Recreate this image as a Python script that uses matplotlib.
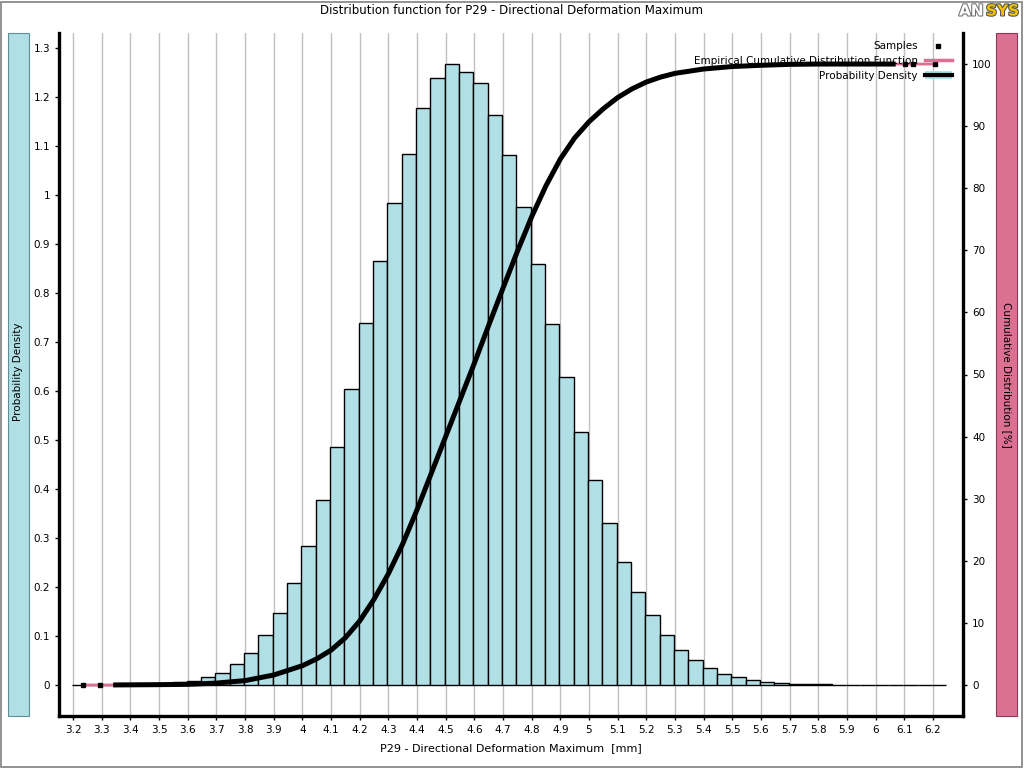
import numpy as np
import matplotlib
matplotlib.use("Agg")
from matplotlib import pyplot as plt
from matplotlib.patches import Rectangle, Patch
from matplotlib.lines import Line2D
from matplotlib.legend_handler import HandlerTuple
import matplotlib.patheffects as pe

# histogram: left edge of first bin, bin width, heights (probability density)
bin_start = 3.197
bin_width = 0.05
density = [0, 0, 0, 0, 0.0005, 0.001, 0.003, 0.006, 0.009, 0.016,
           0.025, 0.042, 0.066, 0.101, 0.146, 0.208, 0.284, 0.378, 0.485, 0.605,
           0.739, 0.866, 0.983, 1.083, 1.178, 1.239, 1.267, 1.250, 1.229, 1.163,
           1.082, 0.976, 0.859, 0.736, 0.629, 0.516, 0.418, 0.331, 0.251, 0.190,
           0.143, 0.102, 0.071, 0.050, 0.035, 0.022, 0.016, 0.0096, 0.007, 0.005,
           0.003, 0.002, 0.001, 0, 0, 0, 0, 0, 0, 0, 0]

# cumulative distribution [%]
cdf_x = [3.34, 3.50, 3.60, 3.70, 3.80, 3.90, 4.00, 4.05, 4.10, 4.15,
         4.20, 4.25, 4.30, 4.35, 4.40, 4.45, 4.50, 4.55, 4.60, 4.65,
         4.70, 4.75, 4.80, 4.85, 4.90, 4.95, 5.00, 5.05, 5.10, 5.15,
         5.20, 5.25, 5.30, 5.40, 5.50, 5.60, 5.70, 5.80, 6.07]
cdf_y = [0, 0.05, 0.1, 0.3, 0.7, 1.6, 3.1, 4.2, 5.6, 7.6,
         10.3, 13.8, 17.9, 22.7, 28.2, 34.1, 40.0, 45.9, 51.8, 57.9,
         63.9, 69.8, 75.4, 80.4, 84.7, 88.1, 90.7, 92.8, 94.6, 96.0,
         97.1, 97.9, 98.5, 99.2, 99.6, 99.8, 99.95, 100, 100]

# samples at the extremes
sample_x = [3.235, 3.294, 6.102, 6.130, 6.207]
sample_y = [0, 0, 100, 100, 100]

xticks = [round(3.2 + 0.1 * i, 1) for i in range(31)]
yticks_left = [round(0.1 * i, 1) for i in range(14)]
yticks_right = list(range(0, 101, 10))

blue = '#b0dfe5'
pink = '#db7093'

fig = plt.figure(figsize=(10.24, 7.68), dpi=100)
ax = fig.add_axes([59 / 1024, 52 / 768, 904 / 1024, 683 / 768])
ax2 = ax.twinx()

edges = [bin_start + bin_width * i for i in range(len(density))]
ax.bar(edges, density, width=bin_width, align='edge', facecolor=blue,
       edgecolor='black', linewidth=1.0, zorder=2)

ax.set_xlim(3.151, 6.305)
ax.set_ylim(-0.0633, 1.3306)
ax2.set_ylim(-5, 105)

ax.set_xticks(xticks)
ax.set_xticklabels(['%g' % t for t in xticks])
ax.set_yticks(yticks_left)
ax.set_yticklabels(['%g' % t for t in yticks_left])
ax2.set_yticks(yticks_right)
ax.xaxis.grid(True, color='#c0c0c0', linewidth=1)
ax.set_axisbelow(True)

for a in (ax, ax2):
    a.tick_params(labelsize=7.5, length=3, width=1, colors='black')
    a.spines['top'].set_visible(False)
    for s in ('left', 'right', 'bottom'):
        a.spines[s].set_linewidth(2.4)
ax.spines['right'].set_visible(False)
ax2.spines['left'].set_visible(False)
ax2.spines['bottom'].set_visible(False)

ecdf_x = [sample_x[0]] + cdf_x + [sample_x[-1]]
ecdf_y = [sample_y[0]] + cdf_y + [sample_y[-1]]
ax2.plot(ecdf_x, ecdf_y, color=pink, linewidth=2, zorder=3)
ax2.plot(cdf_x, cdf_y, color='black', linewidth=3.6, zorder=4,
         solid_joinstyle='round', solid_capstyle='butt')
ax2.plot(sample_x, sample_y, linestyle='none', marker='s', markersize=3,
         color='black', zorder=5)

h_samples = Line2D([], [], linestyle='none', marker='s', markersize=3, color='black')
h_ecdf = Line2D([], [], color=pink, linewidth=2.5)
h_pdf = (Patch(facecolor=blue, edgecolor='none'), Line2D([], [], color='black', linewidth=3))
leg = ax2.legend([h_samples, h_ecdf, h_pdf],
                 ['Samples', 'Empirical Cumulative Distribution Function', 'Probability Density'],
                 handler_map={tuple: HandlerTuple(ndivide=1)},
                 loc='upper right', bbox_to_anchor=(0.997, 1.0), frameon=False,
                 markerfirst=False, fontsize=7.5, handlelength=2.6, handletextpad=0.7,
                 labelspacing=0.45, borderaxespad=0.4)
leg.set_zorder(10)

ax.set_xlabel('P29 - Directional Deformation Maximum  [mm]', fontsize=8, labelpad=6)
fig.text(0.5, 1 - 11 / 768, 'Distribution function for P29 - Directional Deformation Maximum',
         ha='center', va='center', fontsize=8.5)

# side bars
fig.patches.append(Rectangle((8 / 1024, 52 / 768), 21 / 1024, 683 / 768, transform=fig.transFigure,
                             facecolor=blue, edgecolor='#5f8f95', linewidth=0.8))
fig.patches.append(Rectangle((996 / 1024, 52 / 768), 21 / 1024, 683 / 768, transform=fig.transFigure,
                             facecolor=pink, edgecolor='#8a3a55', linewidth=0.8))
fig.text(18.5 / 1024, 1 - 372 / 768, 'Probability Density', rotation=90,
         ha='center', va='center', fontsize=7.5)
fig.text(1006.5 / 1024, 1 - 375 / 768, 'Cumulative Distribution [%]', rotation=-90,
         ha='center', va='center', fontsize=7.5)

# frame
fig.patches.append(Rectangle((0.5 / 1024, 1.5 / 768), 1021 / 1024, 765 / 768, transform=fig.transFigure,
                             facecolor='none', edgecolor='#808080', linewidth=1.2))

# logo
fig.text(959 / 1024, 1 - 11 / 768, 'AN', ha='left', va='center', fontsize=11, fontweight='bold',
         color='white', path_effects=[pe.withStroke(linewidth=1.5, foreground='#707070')])
fig.text(986 / 1024, 1 - 11 / 768, 'SYS', ha='left', va='center', fontsize=11, fontweight='bold',
         color='#f2c200', path_effects=[pe.withStroke(linewidth=1.5, foreground='#505050')])

fig.savefig('out.png', dpi=100)
